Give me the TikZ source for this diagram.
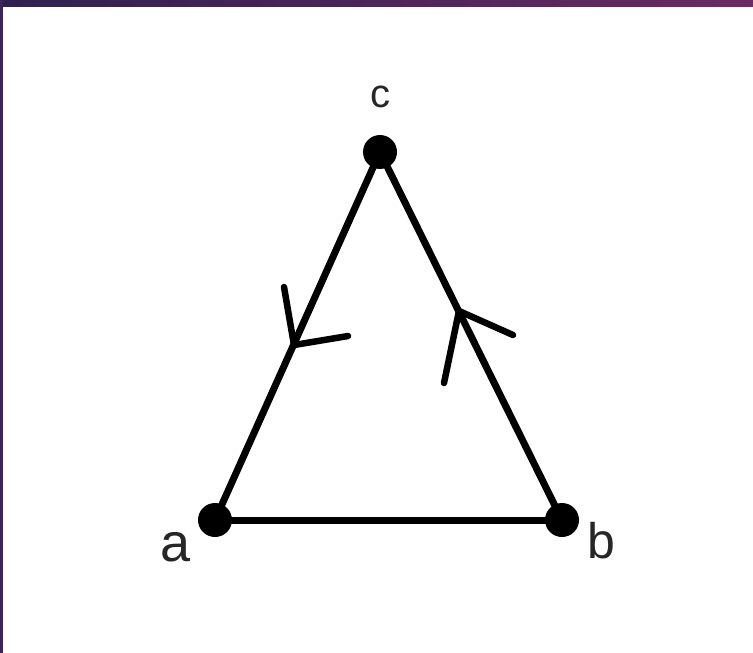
\documentclass[tikz,border=0pt]{standalone}
\usepackage{fontspec}
\setmainfont{Liberation Sans}
\definecolor{barL}{HTML}{2F2050}
\definecolor{barR}{HTML}{6A2A62}
\definecolor{sideC}{HTML}{3A2458}
\begin{document}
\begin{tikzpicture}[x=1pt,y=-1pt,
  edge/.style={line width=7pt,line cap=round},
  tick/.style={line width=6.5pt,line cap=round},
  vertex/.style={circle,fill=black,minimum size=34pt,inner sep=0pt},
  lbl/.style={inner sep=0pt,text=black!85}]
\useasboundingbox (0,0) rectangle (753,653);
\fill[white] (0,0) rectangle (753,653);
\shade[left color=barL,right color=barR] (0,0) rectangle (753,6);
\fill[sideC] (0,0) rectangle (3,653);
\node[vertex] (c) at (380,152) {};
\node[vertex] (a) at (215,520) {};
\node[vertex] (b) at (562,520) {};
\draw[edge] (c.center) -- (a.center);
\draw[edge] (a.center) -- (b.center);
\draw[edge] (b.center) -- (c.center);
\coordinate (l0) at (294,345);
\coordinate (l1) at (284,287);
\coordinate (l2) at (348,336);
\draw[tick] (l1) -- (l0) -- (l2);
\coordinate (r0) at (459,311);
\coordinate (r1) at (444,383);
\coordinate (r2) at (513,335);
\draw[tick] (r1) -- (r0) -- (r2);
\node[lbl,font=\fontsize{40}{40}\selectfont] (lc) at (380,97) {c};
\node[lbl,font=\fontsize{54}{54}\selectfont] (la) at (176,547) {a};
\node[lbl,font=\fontsize{50}{50}\selectfont] (lb) at (601,541) {b};
\end{tikzpicture}
\end{document}
